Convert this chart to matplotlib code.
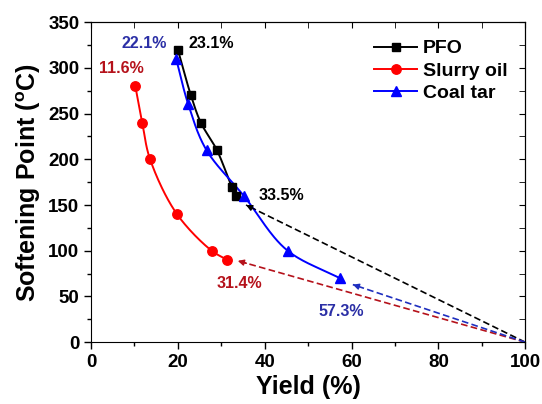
import numpy as np
import matplotlib
matplotlib.use("Agg")
import matplotlib.pyplot as plt
from matplotlib.ticker import MultipleLocator

plt.rcParams['font.family'] = ['Liberation Sans', 'DejaVu Sans']
plt.rcParams['font.weight'] = 'bold'
plt.rcParams['mathtext.fontset'] = 'custom'
plt.rcParams['mathtext.bf'] = 'Liberation Sans:bold'
plt.rcParams['mathtext.rm'] = 'Liberation Sans:bold'

# Data
pfo_x = [20.0, 23.0, 25.3, 29.0, 32.4, 33.4]
pfo_y = [320, 270, 240, 210, 170, 160]
slurry_x = [10.2, 11.8, 13.6, 19.8, 27.8, 31.4]
slurry_y = [280, 240, 200, 140, 100, 90]
coal_x = [19.6, 22.4, 26.6, 35.2, 45.3, 57.3]
coal_y = [310, 260, 210, 160, 100, 70]

series_names = ['PFO', 'Slurry oil', 'Coal tar']

# Dashed arrows: from (100, 0) to heads
arrow_start = (100, 0)
arrow_heads = [(35.7, 150), (33.8, 89), (60.3, 63)]
arrow_colors = ['black', '#b5121b', '#1f2fbf']

# Annotations
ann_texts = ['22.1%', '23.1%', '11.6%', '33.5%', '31.4%', '57.3%']
ann_pos = [(12.3, 327), (27.6, 327), (6.9, 299), (43.8, 161), (34.2, 64), (57.7, 34)]
ann_colors = ['#2b2fa6', 'black', '#b5121b', 'black', '#b5121b', '#2b2fa6']


def smooth(xs, ys, n=30, sx=100.0, sy=350.0):
    P = np.column_stack([np.asarray(xs) / sx, np.asarray(ys) / sy])
    P = np.vstack([2 * P[0] - P[1], P, 2 * P[-1] - P[-2]])
    out = []
    alpha = 0.5
    for i in range(1, len(P) - 2):
        p0, p1, p2, p3 = P[i - 1], P[i], P[i + 1], P[i + 2]
        t0 = 0.0
        t1 = t0 + np.linalg.norm(p1 - p0) ** alpha
        t2 = t1 + np.linalg.norm(p2 - p1) ** alpha
        t3 = t2 + np.linalg.norm(p3 - p2) ** alpha
        t = np.linspace(t1, t2, n)[:, None]
        A1 = (t1 - t) / (t1 - t0) * p0 + (t - t0) / (t1 - t0) * p1
        A2 = (t2 - t) / (t2 - t1) * p1 + (t - t1) / (t2 - t1) * p2
        A3 = (t3 - t) / (t3 - t2) * p2 + (t - t2) / (t3 - t2) * p3
        B1 = (t2 - t) / (t2 - t0) * A1 + (t - t0) / (t2 - t0) * A2
        B2 = (t3 - t) / (t3 - t1) * A2 + (t - t1) / (t3 - t1) * A3
        C = (t2 - t) / (t2 - t1) * B1 + (t - t1) / (t2 - t1) * B2
        out.append(C)
    C = np.vstack(out)
    return C[:, 0] * sx, C[:, 1] * sy


fig = plt.figure(figsize=(5.42, 4.04), dpi=100)
ax = fig.add_axes([0.168, 0.153, 0.801, 0.792])

for (xs, ys, col, mk, ms, name) in [
        (pfo_x, pfo_y, 'black', 's', 5.6, series_names[0]),
        (slurry_x, slurry_y, '#ff0000', 'o', 6.8, series_names[1]),
        (coal_x, coal_y, '#0000ff', '^', 7.5, series_names[2])]:
    sxs, sys_ = smooth(xs, ys)
    ax.plot(sxs, sys_, color=col, lw=1.4, zorder=3)
    ax.plot(xs, ys, linestyle='none', marker=mk, ms=ms, color=col, zorder=4)
    ax.plot([], [], color=col, lw=1.4, marker=mk, ms=ms, label=name)

for (hx, hy), col in zip(arrow_heads, arrow_colors):
    ax.plot([arrow_start[0], hx], [arrow_start[1], hy], color=col, lw=1.2,
            linestyle=(0, (4, 2)), zorder=2)
    dx = hx - arrow_start[0]
    dy = hy - arrow_start[1]
    ax.annotate('', xy=(hx, hy), xytext=(hx - dx * 0.03, hy - dy * 0.03),
                arrowprops=dict(arrowstyle='-|>', color=col, lw=1.0,
                                mutation_scale=9, shrinkA=0, shrinkB=0))

for txt, (tx, ty), col in zip(ann_texts, ann_pos, ann_colors):
    ax.text(tx, ty, txt, color=col, fontsize=11.5, fontweight='bold',
            ha='center', va='center')

ax.set_xlim(0, 100)
ax.set_ylim(0, 350)
ax.xaxis.set_major_locator(MultipleLocator(20))
ax.xaxis.set_minor_locator(MultipleLocator(10))
ax.yaxis.set_major_locator(MultipleLocator(50))
ax.yaxis.set_minor_locator(MultipleLocator(25))
ax.tick_params(axis='both', which='major', labelsize=13.5, length=5, width=1,
               direction='out', top=False, right=False)
ax.tick_params(axis='both', which='minor', length=3, width=1, direction='out',
               top=False, right=False)
for lab in ax.get_xticklabels() + ax.get_yticklabels():
    lab.set_fontweight('bold')

# mirrored inward ticks on top/right
axt = ax.secondary_xaxis('top')
axt.xaxis.set_major_locator(MultipleLocator(20))
axt.xaxis.set_minor_locator(MultipleLocator(10))
axt.tick_params(which='both', direction='in', length=4, labeltop=False)
axr = ax.secondary_yaxis('right')
axr.yaxis.set_major_locator(MultipleLocator(50))
axr.yaxis.set_minor_locator(MultipleLocator(25))
axr.tick_params(which='both', direction='in', length=4, labelright=False)

ax.set_xlabel('Yield (%)', fontsize=18, fontweight='bold', labelpad=3)
ax.set_ylabel(r'Softening Point ($\mathbf{^{o}}$C)', fontsize=18,
              fontweight='bold', labelpad=4)

leg = ax.legend(loc='upper right', frameon=False,
                handlelength=2.2, borderaxespad=0.5, handletextpad=0.3,
                labelspacing=0.25, prop={'weight': 'bold', 'size': 14})

fig.savefig('out.png', dpi=100)
